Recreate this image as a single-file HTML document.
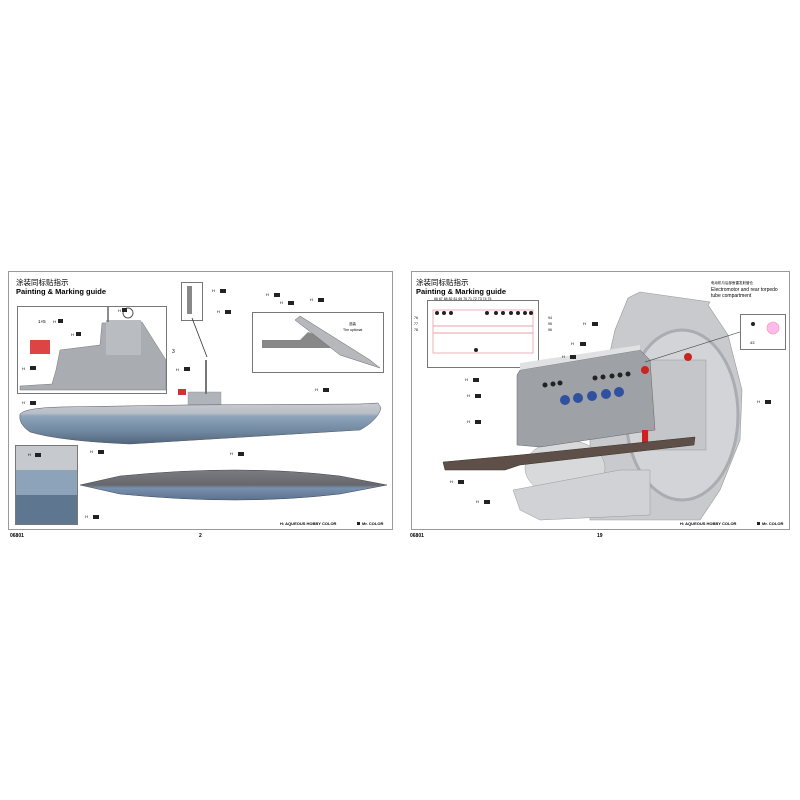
<!DOCTYPE html>
<html><head><meta charset="utf-8"><style>
html,body{margin:0;padding:0;background:#fff}
svg{display:block}
text{font-family:"Liberation Sans","Noto Sans CJK SC",sans-serif}
</style></head><body>
<svg width="800" height="800" viewBox="0 0 800 800" xmlns="http://www.w3.org/2000/svg">
<defs>
<linearGradient id="hull" x1="0" y1="0" x2="0" y2="1">
<stop offset="0" stop-color="#c9ccd0"/><stop offset="0.25" stop-color="#b8bec5"/><stop offset="0.32" stop-color="#8ea4ba"/><stop offset="0.7" stop-color="#6f879f"/><stop offset="1" stop-color="#50657a"/></linearGradient>
<linearGradient id="top" x1="0" y1="0" x2="0" y2="1">
<stop offset="0" stop-color="#7a7c80"/><stop offset="0.5" stop-color="#66686d"/><stop offset="0.6" stop-color="#7790ad"/><stop offset="1" stop-color="#5b7290"/></linearGradient>
</defs>
<!-- LEFT PAGE -->
<rect x="8.5" y="271.5" width="384" height="258" fill="#fff" stroke="#9a9a9a"/>
<text x="16" y="285" font-size="7.5">涂装同标贴指示</text>
<text x="16" y="294" font-size="7.5" font-weight="bold">Painting &amp; Marking guide</text>
<!-- inset 1 -->
<rect x="17.5" y="306.5" width="149" height="87" fill="#fff" stroke="#777"/>
<rect x="30" y="340" width="20" height="14" fill="#d44"/>
<path d="M56 370 L60 350 L100 345 L102 323 L142 322 L166 360 L166 390 L20 390 L20 386 L52 384 Z" fill="#a9adb2" stroke="#777" stroke-width=".5"/>
<rect x="106" y="320" width="35" height="35" fill="#b9bcc1"/>
<circle cx="128" cy="313" r="5" fill="none" stroke="#555"/>
<line x1="108" y1="307" x2="108" y2="322" stroke="#666" stroke-width="1.5"/>
<text x="38" y="323" font-size="4.5">1×5</text>
<text x="172" y="353" font-size="5">3</text>
<g font-size="4" fill="#000">
<text x="53" y="323">H</text><rect x="58" y="319" width="5" height="4" fill="#222"/>
<text x="118" y="312">H</text><rect x="122" y="308" width="5" height="4" fill="#222"/>
<text x="71" y="336">H</text><rect x="76" y="332" width="5" height="4" fill="#222"/>
<text x="22" y="370">H</text><rect x="30" y="366" width="6" height="4" fill="#222"/>
<text x="176" y="371">H</text><rect x="184" y="367" width="6" height="4" fill="#222"/>
<text x="22" y="404">H</text><rect x="30" y="401" width="6" height="4" fill="#222"/>
</g>
<!-- small inset -->
<rect x="181.5" y="282.5" width="21" height="38" fill="#fff" stroke="#777"/>
<rect x="187" y="286" width="5" height="28" fill="#888"/>
<line x1="192" y1="318" x2="207" y2="357" stroke="#333" stroke-width=".8"/>
<text x="212" y="292" font-size="4">H</text><rect x="220" y="289" width="6" height="4" fill="#222"/>
<text x="217" y="313" font-size="4">H</text><rect x="225" y="310" width="6" height="4" fill="#222"/>
<!-- top right inset -->
<rect x="252.5" y="312.5" width="131" height="60" fill="#fff" stroke="#777"/>
<path d="M262 340 L300 340 L308 332 L330 340 L330 348 L262 348Z" fill="#888"/>
<path d="M295 320 L340 355 L380 368 L370 360 L300 316Z" fill="#b6b8bc" stroke="#666" stroke-width=".5"/>
<text x="349" y="325" font-size="3.5">选装</text><text x="343" y="331" font-size="3.5">The optional</text>
<text x="266" y="296" font-size="4">H</text><rect x="274" y="293" width="6" height="4" fill="#222"/>
<text x="280" y="304" font-size="4">H</text><rect x="288" y="301" width="6" height="4" fill="#222"/>
<text x="310" y="301" font-size="4">H</text><rect x="318" y="298" width="6" height="4" fill="#222"/>
<!-- side hull -->
<rect x="188" y="392" width="33" height="17" fill="#b0b4ba" stroke="#888" stroke-width=".4"/>
<rect x="205" y="360" width="2" height="34" fill="#777"/>
<rect x="178" y="389" width="8" height="6" fill="#c33"/>
<path d="M20 414 Q25 408 60 407 L185 405 L360 404 L378 403 L381 408 Q378 420 360 430 L130 444 Q60 441 30 432 Q18 424 20 414Z" fill="url(#hull)" stroke="#556" stroke-width=".5"/>
<text x="315" y="391" font-size="4">H</text><rect x="323" y="388" width="6" height="4" fill="#222"/>
<!-- bottom left inset -->
<rect x="15.5" y="445.5" width="62" height="79" fill="#c6c9cd" stroke="#777"/>
<rect x="16" y="470" width="61" height="25" fill="#8da3b9"/>
<rect x="16" y="495" width="61" height="29" fill="#5f7690"/>
<text x="28" y="456" font-size="4">H</text><rect x="35" y="453" width="6" height="4" fill="#222"/>
<text x="90" y="453" font-size="4">H</text><rect x="98" y="450" width="6" height="4" fill="#222"/>
<text x="230" y="455" font-size="4">H</text><rect x="238" y="452" width="6" height="4" fill="#222"/>
<text x="85" y="518" font-size="4">H</text><rect x="93" y="515" width="6" height="4" fill="#222"/>
<!-- top view -->
<path d="M80 485 L120 476 Q240 464 340 476 L387 485 L340 494 Q240 506 120 494 Z" fill="url(#top)" stroke="#445" stroke-width=".5"/>
<text x="10" y="537" font-size="5" font-weight="bold">06801</text>
<text x="199" y="537" font-size="5" font-weight="bold">2</text>
<text x="280" y="525" font-size="4" font-weight="bold">H:  AQUEOUS HOBBY COLOR</text>
<rect x="357" y="522" width="3" height="3" fill="#222"/><text x="362" y="525" font-size="4" font-weight="bold">Mr. COLOR</text>

<!-- RIGHT PAGE -->
<rect x="411.5" y="271.5" width="378" height="258" fill="#fff" stroke="#9a9a9a"/>
<text x="416" y="285" font-size="7.5">涂装同标贴指示</text>
<text x="416" y="294" font-size="7.5" font-weight="bold">Painting &amp; Marking guide</text>
<text x="711" y="284" font-size="3.5">电动机与后部鱼雷发射管仓</text>
<text x="711" y="291" font-size="5">Electromotor and rear torpedo</text>
<text x="711" y="297" font-size="5">tube compartment</text>
<!-- bulkhead -->
<path d="M628 298 L640 292 L710 302 L708 305 L728 335 L742 390 L740 440 L720 490 L700 520 L590 520 L590 440 L615 330Z" fill="#c8cacd" stroke="#999" stroke-width=".6"/>
<ellipse cx="682" cy="415" rx="56" ry="85" fill="#d2d4d7" stroke="#a9acb0" stroke-width="3"/>
<rect x="648" y="360" width="58" height="90" fill="#c4c6c9" stroke="#999" stroke-width=".5"/>
<!-- inset -->
<rect x="427.5" y="300.5" width="111" height="67" fill="#fff" stroke="#777"/>
<rect x="433" y="310" width="100" height="43" fill="#fff" stroke="#e8a0a8" stroke-width=".8"/>
<line x1="433" y1="326" x2="533" y2="326" stroke="#e8a0a8"/><line x1="433" y1="333" x2="533" y2="333" stroke="#e8a0a8"/>
<g fill="#222"><circle cx="437" cy="313" r="2"/><circle cx="444" cy="313" r="2"/><circle cx="451" cy="313" r="2"/><circle cx="487" cy="313" r="2"/><circle cx="496" cy="313" r="2"/><circle cx="503" cy="313" r="2"/><circle cx="511" cy="313" r="2"/><circle cx="518" cy="313" r="2"/><circle cx="525" cy="313" r="2"/><circle cx="531" cy="313" r="2"/></g>
<text x="434" y="300" font-size="3.5">66 67 68  82    81   69  70 71 72 73 74 75</text>
<text x="414" y="319" font-size="3.5">76</text><text x="414" y="325" font-size="3.5">77</text><text x="414" y="331" font-size="3.5">78</text>
<text x="548" y="319" font-size="3.5">94</text><text x="548" y="325" font-size="3.5">95</text><text x="548" y="331" font-size="3.5">96</text>
<circle cx="476" cy="350" r="2" fill="#222"/>
<!-- motor -->
<ellipse cx="565" cy="468" rx="40" ry="28" fill="#d8d9db" stroke="#999" stroke-width=".5"/>
<!-- engine panel -->
<path d="M517 375 L520 370 L640 350 L650 360 L655 430 L540 447 L517 445Z" fill="#9ea1a5" stroke="#666" stroke-width=".5"/>
<path d="M520 370 L640 350 L640 345 L520 363Z" fill="#e0e1e3"/>
<g fill="#3050a0"><circle cx="565" cy="400" r="5"/><circle cx="578" cy="398" r="5"/><circle cx="592" cy="396" r="5"/><circle cx="606" cy="394" r="5"/><circle cx="619" cy="392" r="5"/></g>
<g fill="#222"><circle cx="545" cy="385" r="2.5"/><circle cx="553" cy="384" r="2.5"/><circle cx="560" cy="383" r="2.5"/><circle cx="595" cy="378" r="2.5"/><circle cx="603" cy="377" r="2.5"/><circle cx="612" cy="376" r="2.5"/><circle cx="620" cy="375" r="2.5"/><circle cx="628" cy="374" r="2.5"/></g>
<rect x="642" y="430" width="6" height="14" fill="#c22"/>
<circle cx="645" cy="370" r="4" fill="#c22"/><circle cx="688" cy="357" r="4" fill="#c22"/>
<!-- floor -->
<path d="M443 462 L520 455 L695 437 L694 445 L520 465 L505 470 L445 470Z" fill="#5e5048" stroke="#3a302a" stroke-width=".5"/>
<!-- base beam -->
<path d="M513 490 L620 470 L650 470 L650 515 L540 520 L520 510Z" fill="#d0d2d5" stroke="#999" stroke-width=".5"/>
<!-- right small inset -->
<rect x="740.5" y="314.5" width="45" height="35" fill="#fff" stroke="#777"/>
<circle cx="753" cy="324" r="2" fill="#222"/><text x="750" y="344" font-size="4">43</text>
<circle cx="773" cy="328" r="6" fill="#fbe" stroke="#e99" stroke-width=".6"/>
<line x1="740" y1="332" x2="645" y2="362" stroke="#333" stroke-width=".6"/>
<g font-size="4">
<text x="583" y="325">H</text><rect x="592" y="322" width="6" height="4" fill="#222"/>
<text x="571" y="345">H</text><rect x="580" y="342" width="6" height="4" fill="#222"/>
<text x="562" y="358">H</text><rect x="570" y="355" width="6" height="4" fill="#222"/>
<text x="465" y="381">H</text><rect x="473" y="378" width="6" height="4" fill="#222"/>
<text x="467" y="397">H</text><rect x="475" y="394" width="6" height="4" fill="#222"/>
<text x="467" y="423">H</text><rect x="475" y="420" width="6" height="4" fill="#222"/>
<text x="757" y="403">H</text><rect x="765" y="400" width="6" height="4" fill="#222"/>
<text x="450" y="483">H</text><rect x="458" y="480" width="6" height="4" fill="#222"/>
<text x="476" y="503">H</text><rect x="484" y="500" width="6" height="4" fill="#222"/>
</g>
<text x="410" y="537" font-size="5" font-weight="bold">06801</text>
<text x="597" y="537" font-size="5" font-weight="bold">19</text>
<text x="680" y="525" font-size="4" font-weight="bold">H:  AQUEOUS HOBBY COLOR</text>
<rect x="757" y="522" width="3" height="3" fill="#222"/><text x="762" y="525" font-size="4" font-weight="bold">Mr. COLOR</text>
</svg>
</body></html>
